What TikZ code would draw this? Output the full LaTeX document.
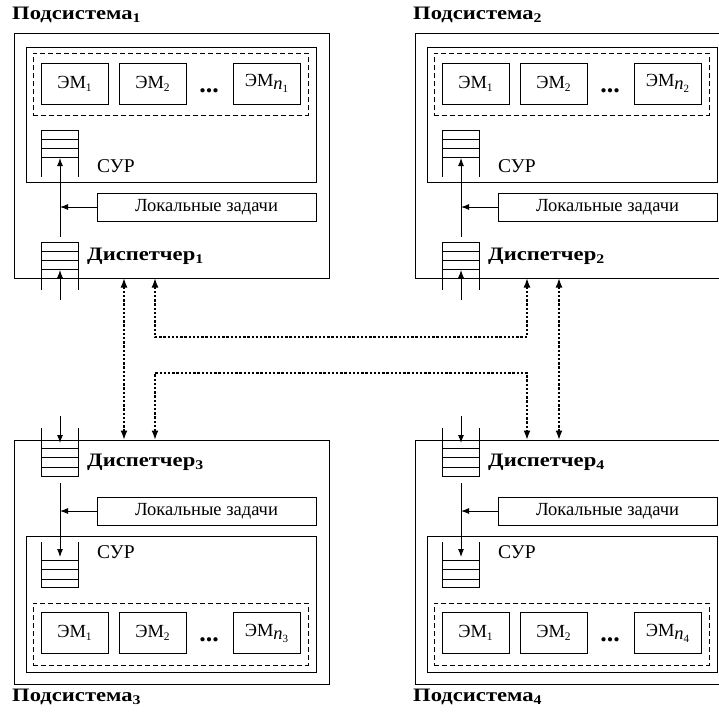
\documentclass[tikz,border=0pt]{standalone}
\usepackage{fontspec}
\setmainfont{Liberation Serif}
\newfontfamily\capfont[FakeStretch=1.19]{Liberation Serif}
\usetikzlibrary{arrows.meta}
\newcommand\emsub[1]{\raisebox{-3pt}{\textit{n}\raisebox{-3pt}{\fontsize{11}{11}\selectfont #1}}}
\newcommand\lowsub[1]{\raisebox{-3pt}{\fontsize{11.5}{11}\selectfont #1}}
\tikzset{
  rect/.style={draw, line width=1pt, inner sep=0pt, outer sep=0pt},
  ln/.style={line width=1pt},
  arr/.style={line width=1pt, -{Latex[length=8pt,width=6pt]}},
  dotarr/.style={line width=1.8pt, dash pattern=on 2.4pt off 1.8pt,
     {Latex[length=9.5pt,width=7pt]}-{Latex[length=9.5pt,width=7pt]}},
  embox/.style={rect, minimum width=67pt, minimum height=41pt, font=\fontsize{18.5}{20}\selectfont},
  pool/.style={rect, dash pattern=on 5pt off 3pt, minimum width=275pt, minimum height=62pt},
  capt/.style={anchor=west, inner sep=0pt, font=\capfont\fontsize{19}{21}\selectfont\bfseries},
  syrlbl/.style={anchor=west, inner sep=0pt, font=\fontsize{19.5}{21}\selectfont},
  locbox/.style={rect, minimum width=219pt, minimum height=28pt, font=\fontsize{18.5}{20}\selectfont},
  dotsl/.style={anchor=base, inner sep=0pt, font=\fontsize{26}{28}\selectfont\bfseries},
}
\newcommand\TopSub[3]{%
\begin{scope}[xshift=#2pt]
 \node[capt] (#1cap) at (12,15) {Подсистема\textsubscript{#3}};
 \node[rect, minimum width=315pt, minimum height=245pt] (#1out) at (171.5,155.5) {};
 \node[rect, minimum width=290pt, minimum height=135pt] (#1syr) at (171,114.5) {};
 \node[pool] (#1pool) at (170.5,84) {};
 \node[embox] (#1em1) at (74.5,83.5) {ЭМ\lowsub{1}};
 \node[embox] (#1em2) at (152.5,83.5) {ЭМ\lowsub{2}};
 \node[dotsl] (#1dots) at (209,92) {...};
 \node[embox] (#1emn) at (266.5,83.5) {ЭМ\emsub{#3}};
 \draw[ln] (41,177) -- (41,130) -- (78,130) -- (78,177)
   (41,139) -- (78,139) (41,148.3) -- (78,148.3) (41,157.7) -- (78,157.7);
 \node[syrlbl] (#1syrt) at (97,166) {СУР};
 \node[locbox] (#1loc) at (206.5,207) {Локальные задачи};
 \draw[ln] (41,290) -- (41,242.7) -- (78,242.7) -- (78,290)
   (41,251) -- (78,251) (41,260) -- (78,260) (41,269.3) -- (78,269.3);
 \node[capt] (#1disp) at (87,256) {Диспетчер\textsubscript{#3}};
 \coordinate (#1qsin) at (60,158);
 \coordinate (#1qdout) at (60,237);
 \coordinate (#1qdin) at (60,270);
 \coordinate (#1src) at (60,300);
 \draw[arr] (#1qdout) -- (#1qsin);
 \draw[arr] (#1loc.west) -- (#1loc.west -| #1qdout);
 \draw[arr] (#1src) -- (#1qdin);
\end{scope}}
\newcommand\BotSub[3]{%
\begin{scope}[xshift=#2pt]
 \node[rect, minimum width=315pt, minimum height=244pt] (#1out) at (171.5,562) {};
 \draw[ln] (41,428) -- (41,476) -- (78,476) -- (78,428)
   (41,448) -- (78,448) (41,457.7) -- (78,457.7) (41,467.3) -- (78,467.3);
 \node[capt] (#1disp) at (87,462) {Диспетчер\textsubscript{#3}};
 \node[locbox] (#1loc) at (206.5,511) {Локальные задачи};
 \node[rect, minimum width=290pt, minimum height=136pt] (#1syr) at (171,604) {};
 \draw[ln] (41,542) -- (41,587.3) -- (78,587.3) -- (78,542)
   (41,560) -- (78,560) (41,569.5) -- (78,569.5) (41,579) -- (78,579);
 \node[syrlbl] (#1syrt) at (97,552) {СУР};
 \node[pool] (#1pool) at (170.5,634) {};
 \node[embox] (#1em1) at (74.5,633) {ЭМ\lowsub{1}};
 \node[embox] (#1em2) at (152.5,633) {ЭМ\lowsub{2}};
 \node[dotsl] (#1dots) at (209,641) {...};
 \node[embox] (#1emn) at (266.5,633) {ЭМ\emsub{#3}};
 \node[capt] (#1cap) at (12,697) {Подсистема\textsubscript{#3}};
 \coordinate (#1src) at (60,416);
 \coordinate (#1qdin) at (60,443);
 \coordinate (#1qdout) at (60,483);
 \coordinate (#1qsin) at (60,557);
 \draw[arr] (#1src) -- (#1qdin);
 \draw[arr] (#1qdout) -- (#1qsin);
 \draw[arr] (#1loc.west) -- (#1loc.west -| #1qdout);
\end{scope}}
\begin{document}
\begin{tikzpicture}[x=1pt,y=-1pt]
 \useasboundingbox (0,0) rectangle (719,715);
 \clip (0,0) rectangle (719,715);
 \TopSub{a}{0}{1}
 \TopSub{b}{401}{2}
 \BotSub{c}{0}{3}
 \BotSub{d}{401}{4}
 \path (aout.south west) +(110,0) coordinate (c1a) +(141,0) coordinate (c1b);
 \path (cout.north west) +(110,0) coordinate (c3a) +(141,0) coordinate (c3b);
 \path (bout.south west) +(112,0) coordinate (c2a) +(144,0) coordinate (c2b);
 \path (dout.north west) +(112,0) coordinate (c4a) +(144,0) coordinate (c4b);
 \draw[dotarr] (c1a) -- (c3a);
 \draw[dotarr] (c1b) -- ++(0,59) -| (c2a);
 \draw[dotarr] (c3b) -- ++(0,-67) -| (c4a);
 \draw[dotarr] (c2b) -- (c4b);
\end{tikzpicture}
\end{document}
